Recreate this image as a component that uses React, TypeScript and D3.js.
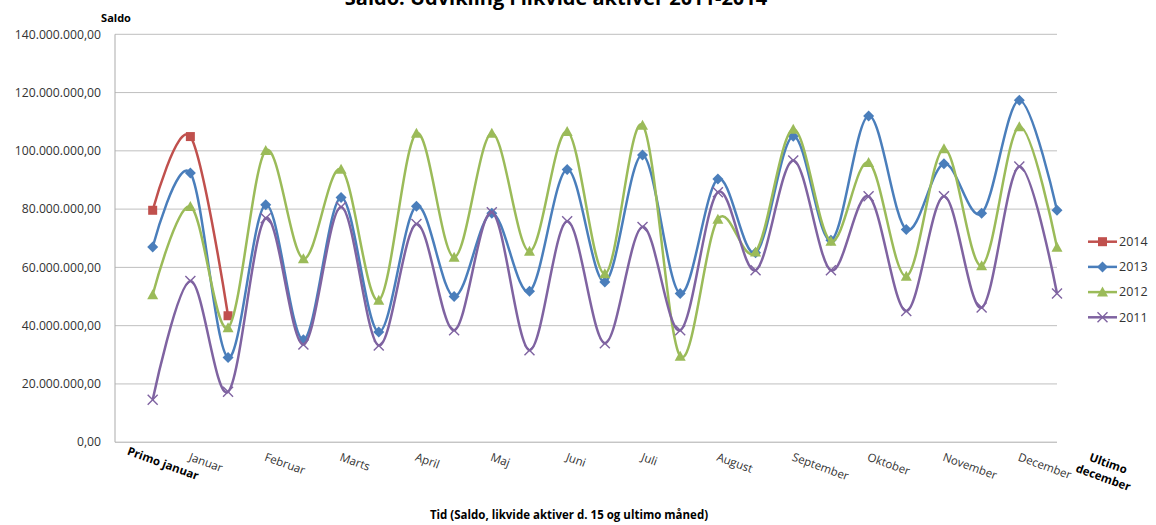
import React from "react";
import * as d3 from "d3";

const categories: string[] = [
  "", "Primo januar", "Januar", "", "Februar", "", "Marts", "", "April", "", "Maj", "",
  "Juni", "", "Juli", "", "August", "", "September", "", "Oktober", "", "November", "",
  "December", "Ultimo december",
];

// values in millions, categories 1..25
const s2014: (number | null)[] = [79.6, 104.9, 43.4];
const s2013: number[] = [67, 92.4, 29.1, 81.5, 35.2, 84, 37.8, 81, 50, 78.6, 51.8, 93.6, 55, 98.6, 51, 90.3, 65, 105, 69.3, 112, 73, 95.6, 78.6, 117.4, 79.6];
const s2012: number[] = [50.6, 80.9, 39.3, 100.1, 63, 93.7, 48.7, 106, 63.5, 106, 65.5, 106.6, 57.8, 108.8, 29.5, 76.5, 65.3, 107.4, 69, 96, 57, 100.7, 60.6, 108.3, 66.9];
const s2011: number[] = [14.6, 55.3, 17.3, 76.9, 33.5, 80.7, 33.2, 74.9, 38.4, 78.9, 31.6, 75.8, 34, 73.9, 38.4, 85.8, 59, 96.7, 59, 84.4, 45, 84.4, 46.2, 94.6, 51];
const yTicks: number[] = [0, 20, 40, 60, 80, 100, 120, 140];

const seriesNames = ["2014", "2013", "2012", "2011"];
const seriesColors = ["#C0504D", "#4A7EBB", "#9BBB59", "#7F63A1"];
const seriesMarkers = ["square", "diamond", "triangle", "x"];
const seriesData = [s2014, s2013, s2012, s2011];

const W = 1156;
const H = 525;
const left = 115;
const right = 1057;
const top = 34.3;
const bottom = 442.2;

const fmt = (v: number) => {
  const s = d3.format(",.2f")(v * 1e6);
  return s.replace(/,/g, "#").replace(/\./g, ",").replace(/#/g, ".");
};

function Marker({ type, x, y, color }: { type: string; x: number; y: number; color: string }) {
  if (type === "square") return <rect x={x - 4.5} y={y - 4.5} width={9} height={9} fill={color} />;
  if (type === "diamond")
    return <path d={`M${x},${y - 5.5}L${x + 5.5},${y}L${x},${y + 5.5}L${x - 5.5},${y}Z`} fill={color} />;
  if (type === "triangle")
    return <path d={`M${x},${y - 5.5}L${x + 5.5},${y + 4.5}L${x - 5.5},${y + 4.5}Z`} fill={color} />;
  return (
    <path
      d={`M${x - 5},${y - 5}L${x + 5},${y + 5}M${x - 5},${y + 5}L${x + 5},${y - 5}`}
      stroke={color}
      strokeWidth={1.4}
      fill="none"
    />
  );
}

export default function App() {
  const x = d3.scalePoint<number>().domain(categories.map((_, i) => i)).range([left, right]);
  const y = d3.scaleLinear().domain([0, 140]).range([bottom, top]);
  const line = d3
    .line<[number, number]>()
    .x((d) => d[0])
    .y((d) => d[1])
    .curve(d3.curveCardinal.tension(0));

  const font = "'Open Sans', 'Liberation Sans', sans-serif";
  const axisY = y(0);

  return (
    <svg width={W} height={H} style={{ position: "absolute", left: 0, top: 0, background: "#fff" }} fontFamily={font}>
      <rect x={0} y={0} width={W} height={H} fill="#fff" />
      <text x={556} y={5} textAnchor="middle" fontSize={20} fontWeight="bold" fill="#000">
        Saldo: Udvikling i likvide aktiver 2011-2014
      </text>
      <text x={116} y={22} textAnchor="middle" fontSize={11} fontWeight="bold" fill="#000">
        Saldo
      </text>
      {yTicks.map((t) => (
        <g key={t}>
          {t > 0 && <line x1={left} x2={right} y1={y(t)} y2={y(t)} stroke="#BFBFBF" strokeWidth={1} />}
          <text x={101} y={y(t)} dy="0.35em" textAnchor="end" fontSize={12.2} fill="#333">
            {fmt(t)}
          </text>
        </g>
      ))}
      <line x1={left} x2={left} y1={top} y2={axisY} stroke="#ABABAB" strokeWidth={1} />
      <line x1={left} x2={right} y1={axisY} y2={axisY} stroke="#ABABAB" strokeWidth={1} />
      {categories.map((c, i) => {
        if (!c) return null;
        const cx = x(i) as number;
        if (c === "Primo januar")
          return (
            <text key={i} transform={`translate(${cx + 9},${axisY + 25}) rotate(20)`} textAnchor="middle" fontSize={11.5} fontWeight="bold" fill="#000">
              {c}
            </text>
          );
        if (c === "Ultimo december")
          return (
            <text key={i} transform={`translate(${cx + 50},${axisY + 25}) rotate(20)`} textAnchor="middle" fontSize={11.5} fontWeight="bold" fill="#000">
              <tspan x={0} dy={0}>Ultimo</tspan>
              <tspan x={0} dy={15}>december</tspan>
            </text>
          );
        return (
          <text key={i} transform={`translate(${cx - 2},${axisY + 18}) rotate(20)`} textAnchor="start" fontSize={11.5} fill="#333">
            {c}
          </text>
        );
      })}
      {seriesData.map((data, si) => {
        const pts: [number, number][] = [];
        data.forEach((v, j) => {
          if (v != null) pts.push([x(j + 1) as number, y(v)]);
        });
        return (
          <g key={si}>
            <path d={line(pts) || ""} fill="none" stroke={seriesColors[si]} strokeWidth={2.5} />
            {pts.map((p, k) => (
              <Marker key={k} type={seriesMarkers[si]} x={p[0]} y={p[1]} color={seriesColors[si]} />
            ))}
          </g>
        );
      })}
      {seriesNames.map((n, i) => {
        const ly = 241.7 + i * 25.2;
        return (
          <g key={n}>
            <line x1={1088} x2={1117} y1={ly} y2={ly} stroke={seriesColors[i]} strokeWidth={2.5} />
            <Marker type={seriesMarkers[i]} x={1102.5} y={ly} color={seriesColors[i]} />
            <text x={1119} y={ly} dy="0.35em" fontSize={12.5} fill="#333">
              {n}
            </text>
          </g>
        );
      })}
      <text x={569} y={519} textAnchor="middle" fontSize={11.5} fontWeight="bold" fill="#000">
        Tid (Saldo, likvide aktiver d. 15 og ultimo måned)
      </text>
    </svg>
  );
}
